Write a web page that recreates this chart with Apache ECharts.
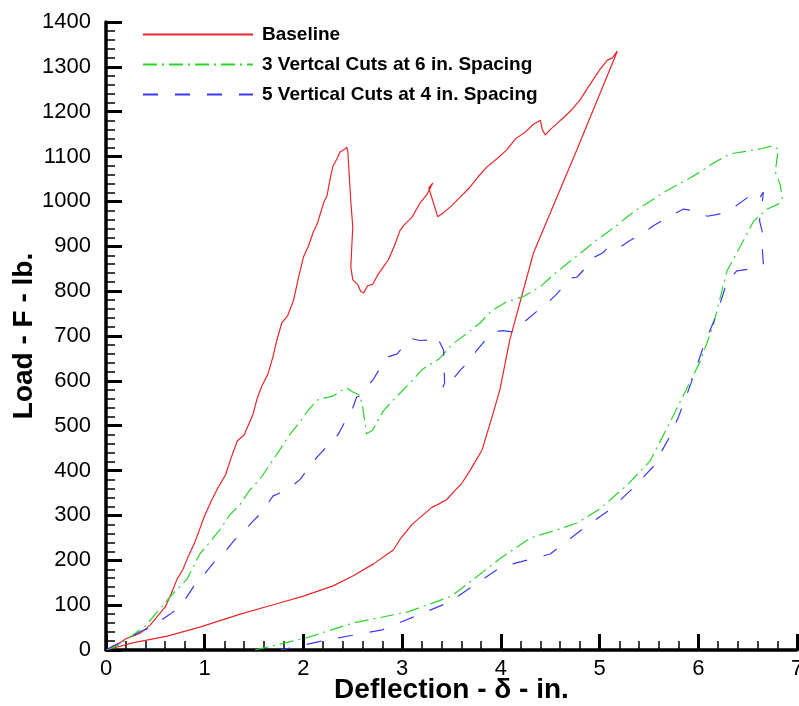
<!DOCTYPE html>
<html>
<head>
<meta charset="utf-8">
<script src="https://cdn.jsdelivr.net/npm/echarts@6/dist/echarts.min.js"></script>
<style>
html,body{margin:0;padding:0;background:#fff;}
#chart{width:799px;height:706px;}
</style>
</head>
<body>
<div id="chart"></div>
<script>
var seriesNames = ["Baseline", "3 Vertcal Cuts at 6 in. Spacing", "5 Vertical Cuts at 4 in. Spacing"];

var baseline = [[0,0],[0.11,11],[0.2,25],[0.27,31],[0.35,38],[0.45,56],[0.52,75],[0.6,96],[0.66,125],[0.72,158],[0.78,180],[0.83,207],[0.9,240],[0.95,270],[1.0,300],[1.07,334],[1.13,360],[1.21,390],[1.27,430],[1.33,466],[1.4,480],[1.49,526],[1.53,560],[1.58,589],[1.64,615],[1.69,653],[1.73,690],[1.78,729],[1.84,745],[1.9,780],[1.95,830],[2.0,876],[2.05,900],[2.1,932],[2.14,950],[2.17,972],[2.21,1000],[2.24,1014],[2.27,1050],[2.3,1079],[2.34,1095],[2.37,1110],[2.41,1115],[2.44,1121],[2.45,1110],[2.48,1000],[2.5,943],[2.49,900],[2.48,854],[2.5,825],[2.55,815],[2.58,800],[2.61,796],[2.65,812],[2.7,815],[2.75,835],[2.81,854],[2.86,870],[2.92,900],[2.98,936],[3.03,950],[3.1,965],[3.18,996],[3.25,1015],[3.31,1041],[3.27,1030],[3.36,966],[3.42,975],[3.5,990],[3.59,1010],[3.68,1030],[3.77,1055],[3.86,1077],[3.96,1095],[4.06,1115],[4.15,1140],[4.25,1155],[4.33,1172],[4.4,1181],[4.42,1160],[4.45,1148],[4.5,1160],[4.55,1170],[4.65,1190],[4.72,1205],[4.8,1226],[4.9,1260],[4.96,1280],[5.0,1293],[5.08,1315],[5.13,1320],[5.18,1335],[5.2,1337],[4.77,1115],[4.33,885],[4.09,691],[3.99,580],[3.91,519],[3.81,446],[3.69,401],[3.6,370],[3.54,357],[3.45,335],[3.35,323],[3.3,318],[3.1,280],[2.98,247],[2.91,223],[2.71,192],[2.5,165],[2.3,143],[2.0,120],[1.73,103],[1.36,80],[0.95,51],[0.62,31],[0.27,16],[0,0]];

var cuts3 = [[0,0],[0.1,8],[0.2,22],[0.3,38],[0.41,56],[0.5,80],[0.62,111],[0.7,130],[0.82,158],[0.95,214],[1.05,240],[1.16,270],[1.25,300],[1.36,325],[1.45,355],[1.56,381],[1.65,410],[1.76,446],[1.86,480],[1.97,510],[2.05,535],[2.14,557],[2.22,562],[2.3,566],[2.38,578],[2.44,584],[2.5,575],[2.57,568],[2.6,542],[2.64,482],[2.7,490],[2.81,533],[2.9,555],[2.98,573],[3.1,600],[3.2,625],[3.38,650],[3.5,680],[3.65,705],[3.79,729],[3.9,755],[4.05,775],[4.23,788],[4.4,810],[4.53,836],[4.63,854],[4.83,889],[4.97,914],[5.18,947],[5.28,966],[5.4,985],[5.51,1000],[5.65,1020],[5.78,1036],[5.9,1050],[6.02,1066],[6.15,1085],[6.32,1106],[6.52,1113],[6.65,1118],[6.75,1124],[6.81,1117],[6.78,1066],[6.83,1037],[6.85,1006],[6.81,994],[6.7,983],[6.56,956],[6.46,914],[6.29,845],[6.15,722],[6.02,644],[5.85,568],[5.71,506],[5.51,421],[5.28,368],[5.0,314],[4.77,283],[4.57,268],[4.3,250],[4.0,205],[3.5,120],[3.06,85],[2.5,60],[2.03,27],[1.51,0]];

var cuts5 = [[0,0],[0.07,9],[0.2,22],[0.34,40],[0.45,50],[0.55,65],[0.65,80],[0.75,96],[0.92,152],[1.0,170],[1.08,192],[1.15,210],[1.22,223],[1.3,245],[1.39,263],[1.48,285],[1.56,303],[1.62,320],[1.69,343],[1.76,350],[1.83,359],[1.9,368],[1.97,381],[2.03,400],[2.1,421],[2.18,440],[2.27,461],[2.35,480],[2.44,517],[2.5,540],[2.54,564],[2.57,566],[2.64,585],[2.71,604],[2.78,630],[2.85,653],[2.95,660],[3.08,695],[3.18,690],[3.28,691],[3.35,700],[3.42,668],[3.43,595],[3.41,584],[3.5,600],[3.59,624],[3.68,645],[3.76,669],[3.84,690],[3.92,709],[4.02,712],[4.12,709],[4.2,725],[4.3,743],[4.38,758],[4.47,773],[4.55,790],[4.63,809],[4.7,829],[4.77,831],[4.85,850],[4.93,874],[5.03,885],[5.11,903],[5.21,898],[5.3,912],[5.44,929],[5.54,945],[5.64,958],[5.74,970],[5.85,983],[5.99,978],[6.09,967],[6.17,970],[6.25,974],[6.38,990],[6.52,1012],[6.6,1000],[6.66,1021],[6.64,985],[6.62,958],[6.66,921],[6.65,889],[6.66,860],[6.54,850],[6.39,845],[6.29,820],[6.19,751],[6.05,675],[5.92,591],[5.8,520],[5.71,475],[5.54,408],[5.34,361],[5.11,314],[4.83,270],[4.5,214],[4.0,185],[3.48,107],[2.8,45],[2.23,22],[1.77,0]];

var xTicks = {min: 0, max: 7, interval: 1};
var yTicks = {min: 0, max: 1400, interval: 100};

var chart = echarts.init(document.getElementById('chart'), null, {renderer: 'canvas'});
var font = 'Liberation Sans, Arial, sans-serif';
function axisCommon() {
  return {
    type: 'value',
    axisLine: {show: true, onZero: false, lineStyle: {color: '#000', width: 3.5}},
    axisTick: {show: true, inside: true, length: 16, lineStyle: {color: '#000', width: 3}},
    minorTick: {show: true, splitNumber: 5, length: 9, lineStyle: {color: '#000', width: 1.5}},
    splitLine: {show: false},
    minorSplitLine: {show: false},
    axisLabel: {color: '#000', fontSize: 22, fontFamily: font, formatter: function (v) { return String(v); }},
    nameLocation: 'middle',
    nameMoveOverlap: false,
    nameTextStyle: {color: '#000', fontSize: 28, fontWeight: 'bold', fontFamily: font}
  };
}
var xa = axisCommon();
xa.min = xTicks.min; xa.max = xTicks.max; xa.interval = xTicks.interval;
xa.name = 'Deflection - \u03B4 - in.';
xa.nameGap = 26;
xa.axisLabel.margin = 8;
var ya = axisCommon();
ya.min = yTicks.min; ya.max = yTicks.max; ya.interval = yTicks.interval;
ya.name = 'Load - F - lb.';
ya.nameGap = 68;
ya.axisLabel.margin = 15;

function mk(name, data, color, type) {
  return {
    name: name, type: 'line', data: data, showSymbol: false, symbol: 'none',
    smooth: false, animation: false,
    lineStyle: {color: color, width: 1.2, type: type},
    itemStyle: {color: color}
  };
}

chart.setOption({
  animation: false,
  backgroundColor: '#fff',
  grid: {left: 106, right: 2, top: 22, bottom: 56, containLabel: false, outerBoundsMode: 'none'},
  xAxis: xa,
  yAxis: ya,
  legend: {
    show: true,
    orient: 'vertical', left: 137, top: 20,
    itemWidth: 110, itemHeight: 18, itemGap: 11,
    itemStyle: {opacity: 0},
    textStyle: {color: '#000', fontSize: 19, fontWeight: 'bold', fontFamily: font, padding: [0,0,0,4]},
    data: seriesNames
  },
  series: [
    mk(seriesNames[0], baseline, '#e8262a', 'solid'),
    mk(seriesNames[1], cuts3, '#2ad52a', [14,5,2,5]),
    mk(seriesNames[2], cuts5, '#3a3aee', [15,17])
  ]
});
</script>
</body>
</html>
